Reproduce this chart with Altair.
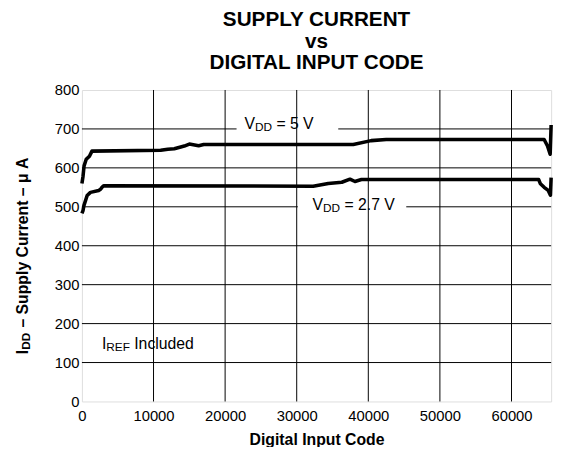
import altair as alt
import pandas as pd

FONT = "Liberation Sans"

title_lines = ["SUPPLY CURRENT", "vs", "DIGITAL INPUT CODE"]
x_title = "Digital Input Code"
y_title_main = "I"
y_title_sub = "DD"
y_title_rest = "– Supply Current – μ A"

x_max = 65535
x_ticks = [0, 10000, 20000, 30000, 40000, 50000, 60000]
y_ticks = [0, 100, 200, 300, 400, 500, 600, 700, 800]

# VDD = 5 V curve (code, uA)
v5_code = [0, 150, 300, 600, 1050, 1400, 11000, 12000, 12900, 14300, 15000,
           16300, 17000, 37900, 40400, 42500, 64560, 65030, 65400, 65535]
v5_ua = [560, 578, 605, 622, 630, 643, 645, 648, 649, 656, 661,
         657, 660, 660, 670, 673, 673, 656, 635, 710]

# VDD = 2.7 V curve (code, uA)
v27_code = [0, 150, 275, 730, 1190, 2340, 2600, 2800, 3030, 32300, 34400,
            36300, 37440, 38130, 39040, 63800, 64040, 64560, 65130, 65440, 65535]
v27_ua = [483, 490, 503, 529, 537, 542, 545, 550, 554, 553, 560,
          563, 571, 565, 570, 570, 559, 550, 542, 530, 575]

# annotation texts and anchors (data coords)
ann_main = ["V", "V", "I"]
ann_sub = ["DD", "DD", "REF"]
ann_rest = ["= 5 V", "= 2.7 V", "Included"]
ann_x = [22700, 32200, 2790]
ann_y = [701, 491, 135]

# gaps in gridlines behind the labels
gap_700 = [21600, 35800]
gap_500 = [30150, 45300]

W, H = 476, 316

curves = pd.DataFrame({
    "code": v5_code + v27_code,
    "ua": v5_ua + v27_ua,
    "series": ["5 V"] * len(v5_code) + ["2.7 V"] * len(v27_code),
    "order": list(range(len(v5_code))) + list(range(len(v27_code))),
})

# grid segments
seg_rows = []
for yv in y_ticks[1:-1]:
    if yv == 700:
        seg_rows += [(yv, 0, gap_700[0]), (yv, gap_700[1], x_max)]
    elif yv == 500:
        seg_rows += [(yv, 0, gap_500[0]), (yv, gap_500[1], x_max)]
    else:
        seg_rows.append((yv, 0, x_max))
hgrid = pd.DataFrame(seg_rows, columns=["y", "x1", "x2"])
vgrid = pd.DataFrame({"x": x_ticks[1:], "y1": [0] * 6, "y2": [800] * 6})

xs = alt.Scale(domain=[0, x_max], nice=False, zero=False)
ys = alt.Scale(domain=[0, 800], nice=False)

xaxis = alt.Axis(values=x_ticks, title=x_title, grid=False, domain=False, ticks=False,
                 labelFont=FONT, labelFontSize=15, labelColor="black", labelPadding=7,
                 labelFlush=False, labelOverlap=False,
                 titleFont=FONT, titleFontSize=16, titleFontWeight="bold", titleColor="black",
                 titlePadding=9, format="d")
yaxis = alt.Axis(values=y_ticks, title=None, grid=False, domain=False, ticks=False,
                 labelFont=FONT, labelFontSize=15, labelColor="black", labelPadding=3,
                 labelFlush=False, labelOverlap=False, format="d")


def X(field):
    return alt.X(field, scale=xs, axis=xaxis)


def Y(field):
    return alt.Y(field, scale=ys, axis=yaxis)


hg = alt.Chart(hgrid).mark_rule(color="black", strokeWidth=1).encode(
    x=X("x1:Q"), x2="x2:Q", y=Y("y:Q"))
vg = alt.Chart(vgrid).mark_rule(color="black", strokeWidth=1).encode(
    x=X("x:Q"), y=Y("y1:Q"), y2="y2:Q")

lines = alt.Chart(curves).mark_line(color="black", strokeWidth=3.6, strokeJoin="round").encode(
    x=X("code:Q"), y=Y("ua:Q"), detail="series:N", order="order:Q")

layers = [hg, vg, lines]

SPACE = 4.4
main_w = {"V": 10.7, "I": 4.4}
sub_w = {"DD": 17.3, "REF": 24.0}
for i in range(3):
    d = pd.DataFrame({"x": [ann_x[i]], "y": [ann_y[i]]})
    base = alt.Chart(d)
    enc = dict(x=X("x:Q"), y=Y("y:Q"))
    layers.append(base.mark_text(text=ann_main[i], font=FONT, fontSize=16, align="left",
                                 baseline="alphabetic", color="black").encode(**enc))
    layers.append(base.mark_text(text=ann_sub[i], font=FONT, fontSize=12, align="left",
                                 baseline="alphabetic", color="black",
                                 dx=main_w[ann_main[i]], dy=2).encode(**enc))
    layers.append(base.mark_text(text=ann_rest[i], font=FONT, fontSize=16, align="left",
                                 baseline="alphabetic", color="black",
                                 dx=main_w[ann_main[i]] + sub_w[ann_sub[i]] + SPACE).encode(**enc))

# rotated y-axis title pieces
yt = alt.Chart(pd.DataFrame({"k": [0]}))
layers.append(yt.mark_text(text=y_title_main, font=FONT, fontSize=16, fontWeight="bold",
                           angle=270, align="left", baseline="alphabetic", color="black")
              .encode(x=alt.value(-55), y=alt.value(268)))
layers.append(yt.mark_text(text=y_title_sub, font=FONT, fontSize=12, fontWeight="bold",
                           angle=270, align="left", baseline="alphabetic", color="black")
              .encode(x=alt.value(-53), y=alt.value(263.5)))
layers.append(yt.mark_text(text=y_title_rest, font=FONT, fontSize=16, fontWeight="bold",
                           angle=270, align="left", baseline="alphabetic", color="black")
              .encode(x=alt.value(-55), y=alt.value(241)))

chart = alt.layer(*layers).properties(
    width=W, height=H,
    title=alt.TitleParams(title_lines, font=FONT, fontSize=21, fontWeight="bold",
                          color="black", anchor="middle", lineHeight=22, offset=10),
    autosize=alt.AutoSizeParams(type="none"),
    padding={"left": 75, "top": 80, "right": 9, "bottom": 43},
).configure_view(stroke="black", strokeWidth=2.5).configure(background="white")

chart.save("out.html", embed_options={"renderer": "svg", "actions": False})
